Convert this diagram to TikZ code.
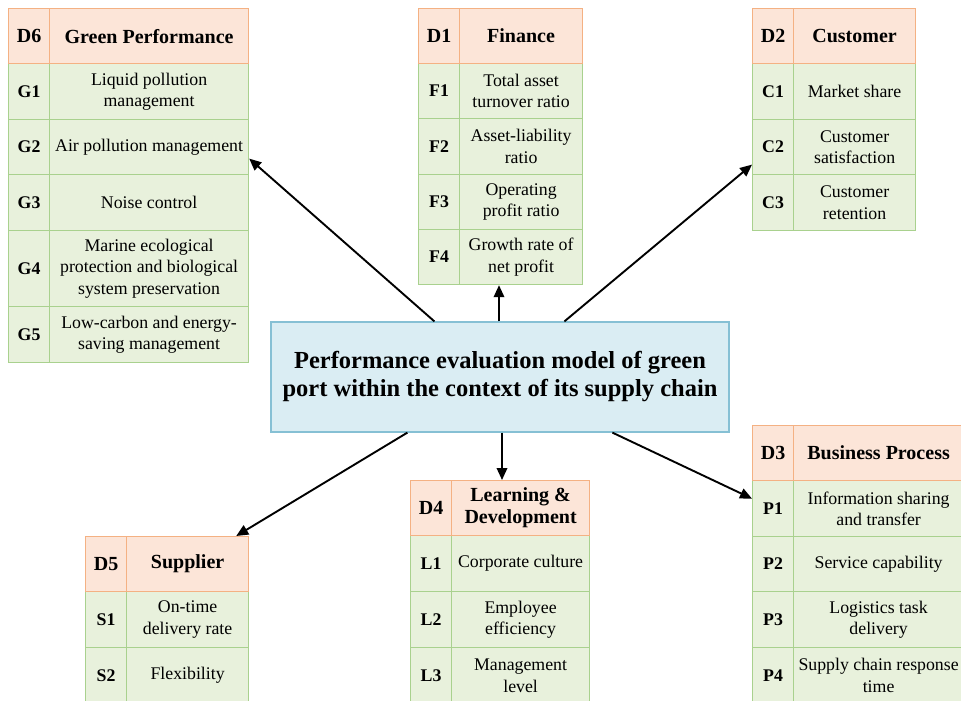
\documentclass[tikz,border=0pt]{standalone}
\usepackage{fontspec}
\setmainfont{Liberation Serif}
\usetikzlibrary{arrows.meta}
\definecolor{hdrfill}{HTML}{FCE5D8}
\definecolor{hdrline}{HTML}{F4B183}
\definecolor{rowfill}{HTML}{E8F1DC}
\definecolor{rowline}{HTML}{A9D18E}
\definecolor{ctrfill}{HTML}{DAEDF3}
\definecolor{ctrline}{HTML}{86C0D4}
\tikzset{
 cellbase/.style={draw, line width=1.2pt, inner sep=0pt, align=center, anchor=north west},
 hdrcell/.style={cellbase, fill=hdrfill, draw=hdrline, font=\fontsize{20}{22}\selectfont\bfseries},
 rowlab/.style={cellbase, fill=rowfill, draw=rowline, font=\fontsize{17.8}{21}\selectfont\bfseries},
 rowtxt/.style={cellbase, fill=rowfill, draw=rowline, font=\fontsize{17.8}{21.5}\selectfont},
 ctrbox/.style={draw=ctrline, fill=ctrfill, line width=1.2pt, inner sep=0pt, align=center,
   minimum width=458pt, minimum height=110pt, font=\fontsize{24.5}{28}\selectfont\bfseries},
 link/.style={-{Triangle[length=12pt,width=10.5pt]}, line width=1.9pt}
}
% style, name, x1, y1, x2, y2, text
\newcommand\tcell[7]{\node[#1, minimum width={#5-#3}, minimum height={#6-#4}] (#2) at (#3,#4) {#7};}
\begin{document}
\begin{tikzpicture}[x=1pt,y=-1pt]
\clip (0,0) rectangle (961,701);
\fill[white] (0,0) rectangle (961,701);
% ---------- D6 Green Performance
\tcell{rowlab}{g1l}{8}{63}{49}{119}{G1}
\tcell{rowtxt}{g1t}{49}{63}{248}{119}{Liquid pollution\\management}
\tcell{rowlab}{g2l}{8}{119}{49}{174}{G2}
\tcell{rowtxt}{g2t}{49}{119}{248}{174}{Air pollution management}
\tcell{rowlab}{g3l}{8}{174}{49}{230}{G3}
\tcell{rowtxt}{g3t}{49}{174}{248}{230}{Noise control}
\tcell{rowlab}{g4l}{8}{230}{49}{306}{G4}
\tcell{rowtxt}{g4t}{49}{230}{248}{306}{Marine ecological\\protection and biological\\system preservation}
\tcell{rowlab}{g5l}{8}{306}{49}{362}{G5}
\tcell{rowtxt}{g5t}{49}{306}{248}{362}{Low-carbon and energy-\\saving management}
\tcell{hdrcell}{d6l}{8}{8}{49}{63}{D6}
\tcell{hdrcell}{d6t}{49}{8}{248}{63}{Green Performance}
% ---------- D1 Finance
\tcell{rowlab}{f1l}{418}{63}{459}{118}{F1}
\tcell{rowtxt}{f1t}{459}{63}{582}{118}{Total asset\\turnover ratio}
\tcell{rowlab}{f2l}{418}{118}{459}{174}{F2}
\tcell{rowtxt}{f2t}{459}{118}{582}{174}{Asset-liability\\ratio}
\tcell{rowlab}{f3l}{418}{174}{459}{229}{F3}
\tcell{rowtxt}{f3t}{459}{174}{582}{229}{Operating\\profit ratio}
\tcell{rowlab}{f4l}{418}{229}{459}{284}{F4}
\tcell{rowtxt}{f4t}{459}{229}{582}{284}{Growth rate of\\net profit}
\tcell{hdrcell}{d1l}{418}{8}{459}{63}{D1}
\tcell{hdrcell}{d1t}{459}{8}{582}{63}{Finance}
% ---------- D2 Customer
\tcell{rowlab}{c1l}{752}{63}{793}{119}{C1}
\tcell{rowtxt}{c1t}{793}{63}{915}{119}{Market share}
\tcell{rowlab}{c2l}{752}{119}{793}{174}{C2}
\tcell{rowtxt}{c2t}{793}{119}{915}{174}{Customer\\satisfaction}
\tcell{rowlab}{c3l}{752}{174}{793}{230}{C3}
\tcell{rowtxt}{c3t}{793}{174}{915}{230}{Customer\\retention}
\tcell{hdrcell}{d2l}{752}{8}{793}{63}{D2}
\tcell{hdrcell}{d2t}{793}{8}{915}{63}{Customer}
% ---------- D5 Supplier
\tcell{rowlab}{s1l}{85}{591}{126}{647}{S1}
\tcell{rowtxt}{s1t}{126}{591}{248}{647}{On-time\\delivery rate}
\tcell{rowlab}{s2l}{85}{647}{126}{703}{S2}
\tcell{rowtxt}{s2t}{126}{647}{248}{703}{Flexibility}
\tcell{hdrcell}{d5l}{85}{536}{126}{591}{D5}
\tcell{hdrcell}{d5t}{126}{536}{248}{591}{Supplier}
% ---------- D4 Learning & Development
\tcell{rowlab}{l1l}{410}{535}{451}{591}{L1}
\tcell{rowtxt}{l1t}{451}{535}{589}{591}{Corporate culture}
\tcell{rowlab}{l2l}{410}{591}{451}{647}{L2}
\tcell{rowtxt}{l2t}{451}{591}{589}{647}{Employee\\efficiency}
\tcell{rowlab}{l3l}{410}{647}{451}{703}{L3}
\tcell{rowtxt}{l3t}{451}{647}{589}{703}{Management\\level}
\tcell{hdrcell}{d4l}{410}{480}{451}{535}{D4}
\tcell{hdrcell}{d4t}{451}{480}{589}{535}{Learning \&\\Development}
% ---------- D3 Business Process
\tcell{rowlab}{p1l}{752}{480}{793}{536}{P1}
\tcell{rowtxt}{p1t}{793}{480}{963}{536}{Information sharing\\and transfer}
\tcell{rowlab}{p2l}{752}{536}{793}{591}{P2}
\tcell{rowtxt}{p2t}{793}{536}{963}{591}{Service capability}
\tcell{rowlab}{p3l}{752}{591}{793}{647}{P3}
\tcell{rowtxt}{p3t}{793}{591}{963}{647}{Logistics task\\delivery}
\tcell{rowlab}{p4l}{752}{647}{793}{703}{P4}
\tcell{rowtxt}{p4t}{793}{647}{963}{703}{Supply chain response\\time}
\tcell{hdrcell}{d3l}{752}{425}{793}{480}{D3}
\tcell{hdrcell}{d3t}{793}{425}{963}{480}{Business Process}
% ---------- centre
\node[ctrbox] (ctr) at (500,377) {Performance evaluation model of green\\port within the context of its supply chain};
% ---------- connectors
\coordinate (a6) at ([xshift=164pt]ctr.north west);
\draw[link] (a6) -- ([yshift=-11.5pt]g2t.east);
\coordinate (a1) at ([xshift=-1pt]ctr.north);
\draw[link] (a1) -- (a1 |- f4t.south);
\coordinate (a2) at ([xshift=294pt]ctr.north west);
\draw[link] (a2) -- ([yshift=-17.5pt]c2l.west);
\coordinate (a5) at ([xshift=137pt]ctr.south west);
\draw[link] (a5) -- ([xshift=-13pt]d5t.north east);
\coordinate (a4) at ([xshift=2pt]ctr.south);
\draw[link] (a4) -- (a4 |- d4t.north);
\coordinate (a3) at ([xshift=342pt]ctr.south west);
\draw[link] (a3) -- ([yshift=10pt]p1l.west);
\end{tikzpicture}
\end{document}
